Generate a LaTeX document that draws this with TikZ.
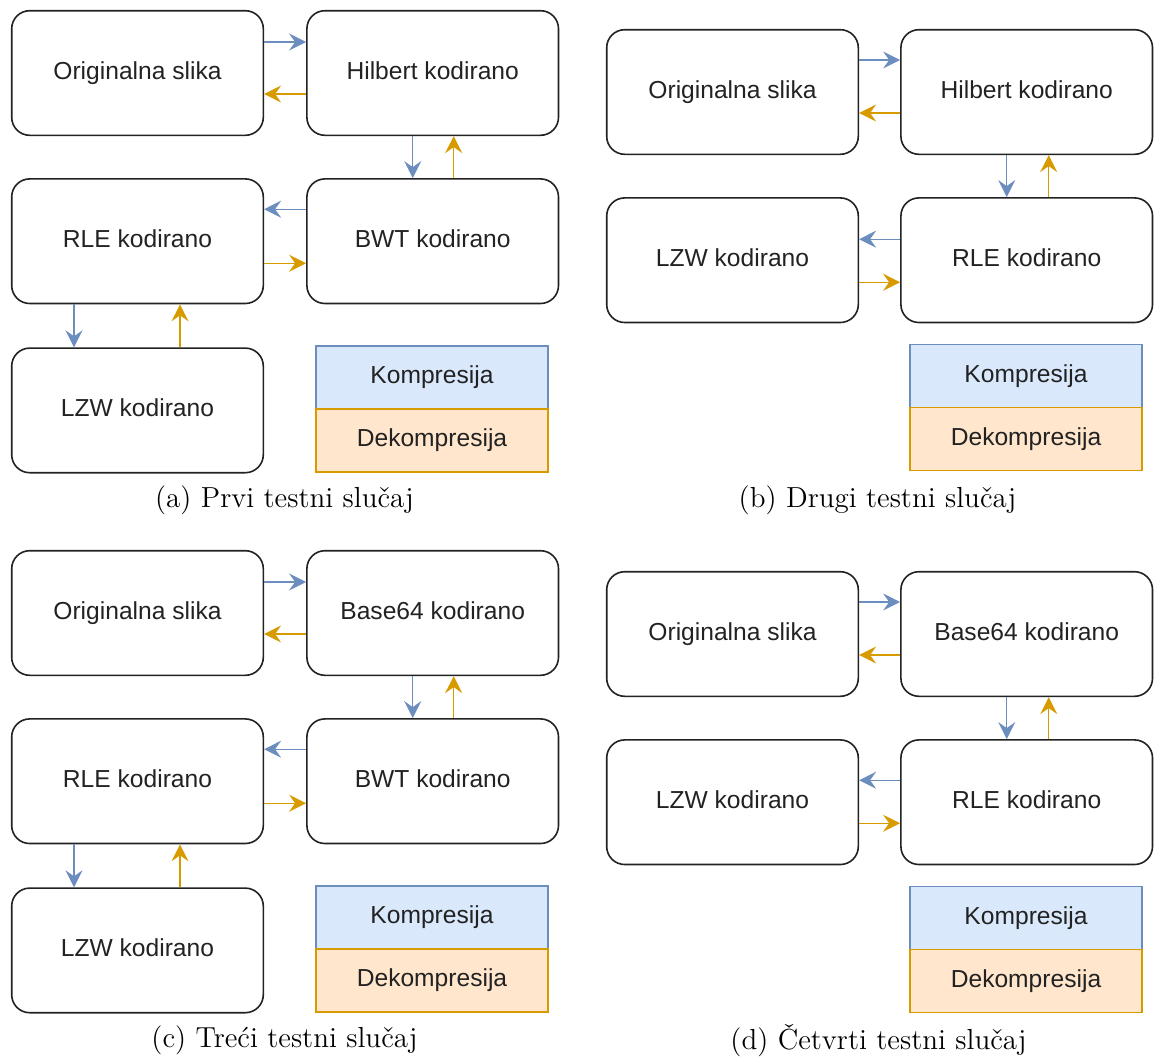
\documentclass[tikz,border=0pt]{standalone}
\usepackage{fontspec}
\newfontfamily\drawfont{Liberation Sans}
\usetikzlibrary{positioning, arrows.meta}

\definecolor{compline}{HTML}{6C8EBF}
\definecolor{compfill}{HTML}{DAE8FC}
\definecolor{decline}{HTML}{D79B00}
\definecolor{decfill}{HTML}{FFE6CC}
\definecolor{boxline}{HTML}{222222}

\tikzset{
  stage/.style={draw=boxline, line width=0.8pt, rounded corners=9pt,
    minimum width=125.8pt, minimum height=62.3pt, text=boxline,
    text height=9pt, text depth=2.6pt,
    font=\drawfont\fontsize{12.3}{14}\selectfont},
  comp/.style={compline, line width=0.7pt, -{Stealth[length=8.5pt, width=8.5pt, inset=3pt]}},
  decomp/.style={decline, line width=0.7pt, -{Stealth[length=8.5pt, width=8.5pt, inset=3pt]}},
  legendcomp/.style={draw=compline, fill=compfill, line width=0.7pt, outer sep=0pt,
    minimum width=116pt, minimum height=31.5pt, text=boxline,
    text height=9pt, text depth=2.6pt,
    font=\drawfont\fontsize{12.3}{14}\selectfont},
  legenddecomp/.style={legendcomp, draw=decline, fill=decfill},
  caption/.style={font=\fontsize{14.5}{17}\selectfont}
}

\begin{document}
\begin{tikzpicture}[x=0.5pt, y=-0.5pt]
    \useasboundingbox (0,0) rectangle (1154,1060);

    % (a)
    \node[stage] (origA) at (137.5,73) {Originalna slika};
    \node[stage, right=21pt of origA] (hilbA) {Hilbert kodirano};
    \node[stage, below=21pt of origA] (rleA) {RLE kodirano};
    \node[stage, below=21pt of hilbA] (bwtA) {BWT kodirano};
    \node[stage, below=21.5pt of rleA] (lzwA) {LZW kodirano};
    \node[legendcomp] (kompA) at (432,377.5) {Kompresija};
    \node[legenddecomp, below=0pt of kompA] (dekompA) {Dekompresija};
    \draw[comp] ([yshift=15.5pt]origA.east) -- ([yshift=15.5pt]hilbA.west);
    \draw[decomp] ([yshift=-10.5pt]hilbA.west) -- ([yshift=-10.5pt]origA.east);
    \draw[comp] ([xshift=-10pt]hilbA.south) -- ([xshift=-10pt]bwtA.north);
    \draw[decomp] ([xshift=10.5pt]bwtA.north) -- ([xshift=10.5pt]hilbA.south);
    \draw[comp] ([yshift=16pt]bwtA.west) -- ([yshift=16pt]rleA.east);
    \draw[decomp] ([yshift=-11pt]rleA.east) -- ([yshift=-11pt]bwtA.west);
    \draw[comp] ([xshift=-31.75pt]rleA.south) -- ([xshift=-31.75pt]lzwA.north);
    \draw[decomp] ([xshift=21.25pt]lzwA.north) -- ([xshift=21.25pt]rleA.south);
    \node[caption] (capA) at (284.5,500) {(a) Prvi testni slučaj};

    % (b)
    \node[stage] (origB) at (732.5,92) {Originalna slika};
    \node[stage, right=20.5pt of origB] (hilbB) {Hilbert kodirano};
    \node[stage, below=21pt of origB] (lzwB) {LZW kodirano};
    \node[stage, below=21pt of hilbB] (rleB) {RLE kodirano};
    \node[legendcomp] (kompB) at (1026,376) {Kompresija};
    \node[legenddecomp, below=0pt of kompB] (dekompB) {Dekompresija};
    \draw[comp] ([yshift=16pt]origB.east) -- ([yshift=16pt]hilbB.west);
    \draw[decomp] ([yshift=-10.5pt]hilbB.west) -- ([yshift=-10.5pt]origB.east);
    \draw[comp] ([xshift=-10pt]hilbB.south) -- ([xshift=-10pt]rleB.north);
    \draw[decomp] ([xshift=11pt]rleB.north) -- ([xshift=11pt]hilbB.south);
    \draw[comp] ([yshift=10.5pt]rleB.west) -- ([yshift=10.5pt]lzwB.east);
    \draw[decomp] ([yshift=-11pt]lzwB.east) -- ([yshift=-11pt]rleB.west);
    \node[caption] (capB) at (877.5,500) {(b) Drugi testni slučaj};

    % (c)
    \node[stage] (origC) at (137.5,613) {Originalna slika};
    \node[stage, right=21pt of origC] (b64C) {Base64 kodirano};
    \node[stage, below=21pt of origC] (rleC) {RLE kodirano};
    \node[stage, below=21pt of b64C] (bwtC) {BWT kodirano};
    \node[stage, below=21.5pt of rleC] (lzwC) {LZW kodirano};
    \node[legendcomp] (kompC) at (432,917.5) {Kompresija};
    \node[legenddecomp, below=0pt of kompC] (dekompC) {Dekompresija};
    \draw[comp] ([yshift=15.5pt]origC.east) -- ([yshift=15.5pt]b64C.west);
    \draw[decomp] ([yshift=-10.5pt]b64C.west) -- ([yshift=-10.5pt]origC.east);
    \draw[comp] ([xshift=-10pt]b64C.south) -- ([xshift=-10pt]bwtC.north);
    \draw[decomp] ([xshift=10.5pt]bwtC.north) -- ([xshift=10.5pt]b64C.south);
    \draw[comp] ([yshift=16pt]bwtC.west) -- ([yshift=16pt]rleC.east);
    \draw[decomp] ([yshift=-11pt]rleC.east) -- ([yshift=-11pt]bwtC.west);
    \draw[comp] ([xshift=-31.75pt]rleC.south) -- ([xshift=-31.75pt]lzwC.north);
    \draw[decomp] ([xshift=21.25pt]lzwC.north) -- ([xshift=21.25pt]rleC.south);
    \node[caption] (capC) at (284.5,1040) {(c) Treći testni slučaj};

    % (d)
    \node[stage] (origD) at (732.5,634) {Originalna slika};
    \node[stage, right=20.5pt of origD] (b64D) {Base64 kodirano};
    \node[stage, below=21pt of origD] (lzwD) {LZW kodirano};
    \node[stage, below=21pt of b64D] (rleD) {RLE kodirano};
    \node[legendcomp] (kompD) at (1026,918) {Kompresija};
    \node[legenddecomp, below=0pt of kompD] (dekompD) {Dekompresija};
    \draw[comp] ([yshift=16pt]origD.east) -- ([yshift=16pt]b64D.west);
    \draw[decomp] ([yshift=-10.5pt]b64D.west) -- ([yshift=-10.5pt]origD.east);
    \draw[comp] ([xshift=-10pt]b64D.south) -- ([xshift=-10pt]rleD.north);
    \draw[decomp] ([xshift=11pt]rleD.north) -- ([xshift=11pt]b64D.south);
    \draw[comp] ([yshift=11pt]rleD.west) -- ([yshift=11pt]lzwD.east);
    \draw[decomp] ([yshift=-10.5pt]lzwD.east) -- ([yshift=-10.5pt]rleD.west);
    \node[caption] (capD) at (878.5,1041) {(d) Četvrti testni slučaj};
\end{tikzpicture}
\end{document}
